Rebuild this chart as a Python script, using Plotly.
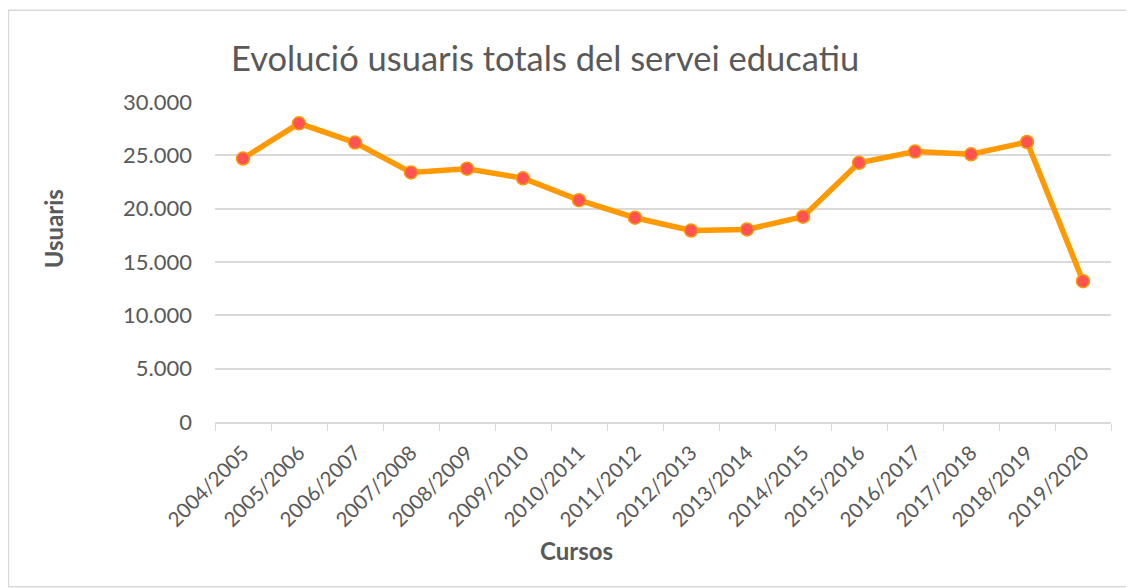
import plotly.graph_objects as go

cursos = ["2004/2005", "2005/2006", "2006/2007", "2007/2008", "2008/2009",
          "2009/2010", "2010/2011", "2011/2012", "2012/2013", "2013/2014",
          "2014/2015", "2015/2016", "2016/2017", "2017/2018", "2018/2019",
          "2019/2020"]
usuaris = [24700, 28000, 26200, 23400, 23750, 22850, 20800, 19150, 17950,
           18050, 19250, 24300, 25350, 25100, 26250, 13200]
y_ticks = [0, 5000, 10000, 15000, 20000, 25000, 30000]

OFF = 8  # page body margin
W, H = 1134 - OFF, 588 - OFF
L, R, T, B = 215 - OFF, 1110.7 - OFF, 101.7 - OFF, 421.7 - OFF


def px(x):
    return (x - OFF - L) / (R - L)


def py(y):
    return (B - (y - OFF)) / (B - T)


FONT = "Lato"
GREY = "#595959"

fig = go.Figure()
fig.add_trace(go.Scatter(
    x=cursos, y=usuaris, mode="lines+markers",
    line=dict(color="#FF9900", width=5.5),
    marker=dict(size=13, color="#FF5252", line=dict(color="#FF9900", width=1.5)),
    showlegend=False,
))

fig.update_layout(
    width=W, height=H,
    margin=dict(l=L, r=W - R, t=T, b=H - B, pad=0),
    paper_bgcolor="white", plot_bgcolor="white",
    separators=",.",
    font=dict(family=FONT, color=GREY, size=22),
    xaxis=dict(
        type="category", tickangle=-45, tickson="boundaries",
        ticks="outside", ticklen=7, tickcolor="#D9D9D9",
        showline=True, linecolor="#D9D9D9", linewidth=1.5,
        showgrid=False, tickfont=dict(size=20.5, color=GREY),
        ticklabelstandoff=9,
        range=[-0.5, len(cursos) - 0.5],
    ),
    yaxis=dict(
        range=[0, 30000], tickvals=y_ticks, tickformat=",d",
        showgrid=True, gridcolor="#D9D9D9", gridwidth=1.5,
        zeroline=False, showline=False, ticks="",
        ticklabelstandoff=22, tickfont=dict(size=22, color=GREY),
    ),
    shapes=[dict(type="rect", xref="paper", yref="paper",
                 x0=px(8.5), x1=px(1132.5), y0=py(586.5), y1=py(10),
                 line=dict(color="#D9D9D9", width=1.5), fillcolor="rgba(0,0,0,0)",
                 layer="below")],
    annotations=[
        dict(text="Evolució usuaris totals del servei educatiu", xref="paper", yref="paper",
             x=px(545), y=py(57), showarrow=False, xanchor="center", yanchor="middle",
             font=dict(size=34.5, color=GREY, family=FONT)),
        dict(text="<b>Cursos</b>", xref="paper", yref="paper",
             x=px(576), y=py(550), showarrow=False, xanchor="center", yanchor="middle",
             font=dict(size=24, color=GREY, family=FONT)),
        dict(text="<b>Usuaris</b>", xref="paper", yref="paper",
             x=px(53), y=py(228), showarrow=False, xanchor="center", yanchor="middle",
             textangle=-90, font=dict(size=24, color=GREY, family=FONT)),
    ],
)

fig.write_html("out.html")
